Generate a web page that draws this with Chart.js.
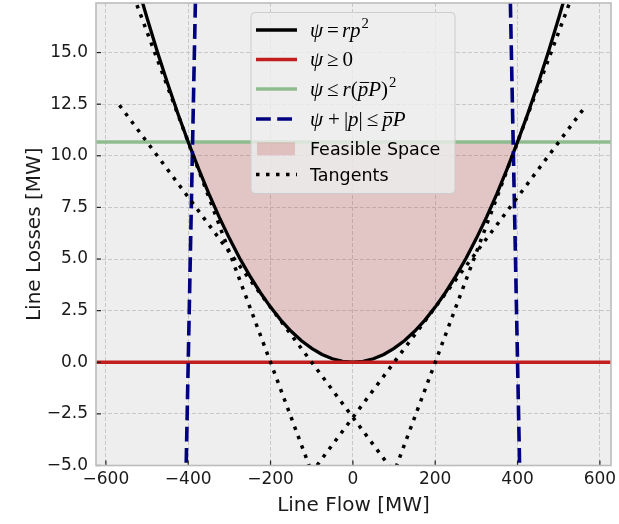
<!DOCTYPE html>
<html>
<head>
<meta charset="utf-8">
<script src="https://cdn.jsdelivr.net/npm/chart.js@4"></script>
<style>
  html, body { margin: 0; padding: 0; background: #fff; }
</style>
</head>
<body>
<canvas id="lossChart" width="619" height="524"></canvas>
<script>
// loss curve psi = r p^2, every 25 MW
const curveFlow = [-525, -500, -475, -450, -425, -400, -375, -350, -325, -300, -275, -250, -225, -200, -175, -150, -125, -100, -75, -50, -25,
  0, 25, 50, 75, 100, 125, 150, 175, 200, 225, 250, 275, 300, 325, 350, 375, 400, 425, 450, 475, 500, 525];
const curveLoss = [18.38, 16.67, 15.04, 13.50, 12.04, 10.67, 9.38, 8.17, 7.04, 6.00, 5.04, 4.17, 3.38, 2.67, 2.04, 1.50, 1.04, 0.67, 0.38, 0.17, 0.04,
  0.00, 0.04, 0.17, 0.38, 0.67, 1.04, 1.50, 2.04, 2.67, 3.38, 4.17, 5.04, 6.00, 7.04, 8.17, 9.38, 10.67, 12.04, 13.50, 15.04, 16.67, 18.38];

// constraint lines
const fullFlow = [-624, 627];
const zeroLoss = [0, 0];
const capLoss = [10.67, 10.67];
const leftLimitFlow = [-410, -380];
const rightLimitFlow = [410, 380];
const limitLoss = [-10, 20];

// feasible region outline (top edge, then back along the curve)
const feasibleFlow = [-389.9, -389.3, 389.3, 389.9, 375, 350, 325, 300, 275, 250, 225, 200, 175, 150, 125, 100, 75, 50, 25, 0,
  -25, -50, -75, -100, -125, -150, -175, -200, -225, -250, -275, -300, -325, -350, -375];
const feasibleLoss = [10.13, 10.67, 10.67, 10.13, 9.38, 8.17, 7.04, 6.00, 5.04, 4.17, 3.38, 2.67, 2.04, 1.50, 1.04, 0.67, 0.38, 0.17, 0.04, 0.00,
  0.04, 0.17, 0.38, 0.67, 1.04, 1.50, 2.04, 2.67, 3.38, 4.17, 5.04, 6.00, 7.04, 8.17, 9.38];

// tangents at -400, -200, 200, 400 MW
const tangentFlow = [-567, 567];
const tangentAtM400 = [19.57, -40.91];
const tangentAtM200 = [12.45, -17.79];
const tangentAtP200 = [-17.79, 12.45];
const tangentAtP400 = [-40.91, 19.57];

// axis ticks
const xTicks = [-600, -400, -200, 0, 200, 400, 600];
const yTicks = [-5, -2.5, 0, 2.5, 5, 7.5, 10, 12.5, 15];

function pts(xs, ys) {
  return xs.map((x, i) => ({ x: x, y: ys[i] }));
}

function lineSet(xs, ys, color, width, dash, order) {
  return {
    data: pts(xs, ys),
    borderColor: color,
    borderWidth: width,
    borderDash: dash,
    pointRadius: 0,
    fill: false,
    tension: 0,
    order: order
  };
}

const dotted = [3.5, 6.5];
const dashed = [14.8, 6.4];

const datasets = [
  lineSet(curveFlow, curveLoss, "#000000", 3.3, [], 4),
  lineSet(fullFlow, zeroLoss, "#c11f1f", 3.4, [], 3),
  lineSet(fullFlow, capLoss, "#8fbc8f", 3.4, [], 5),
  lineSet(leftLimitFlow, limitLoss, "#000080", 3.6, dashed, 2),
  lineSet(rightLimitFlow, limitLoss, "#000080", 3.6, dashed, 2),
  {
    data: pts(feasibleFlow, feasibleLoss),
    borderWidth: 0,
    pointRadius: 0,
    backgroundColor: "rgba(178, 34, 34, 0.2)",
    fill: "shape",
    tension: 0,
    order: 10
  },
  lineSet(tangentFlow, tangentAtM400, "#000000", 3.5, dotted, 1),
  lineSet(tangentFlow, tangentAtM200, "#000000", 3.5, dotted, 1),
  lineSet(tangentFlow, tangentAtP200, "#000000", 3.5, dotted, 1),
  lineSet(tangentFlow, tangentAtP400, "#000000", 3.5, dotted, 1)
];

// math-ish text: [text, kind] with i = italic, r = roman, s = superscript, b = italic with bar, number = gap
function drawMath(ctx, parts, x, y, size) {
  parts.forEach(p => {
    if (typeof p === "number") { x += p; return; }
    const [txt, kind] = p;
    const fs = kind === "s" ? size * 0.7 : size;
    const italic = kind === "i" || kind === "b";
    ctx.font = (italic ? "italic " : "") + fs + 'px "Liberation Serif"';
    const dy = kind === "s" ? -size * 0.4 : 0;
    ctx.fillText(txt, x, y + dy);
    const w = ctx.measureText(txt).width;
    if (kind === "b") {
      ctx.save();
      ctx.lineWidth = 1;
      ctx.beginPath();
      ctx.moveTo(x + 2, y - size * 0.62);
      ctx.lineTo(x + w + 1, y - size * 0.62);
      ctx.stroke();
      ctx.restore();
    }
    x += w;
  });
}

const legendRows = [
  { type: "line", color: "#000000", width: 3.3, dash: [], math: [["ψ", "i"], 4, ["=", "r"], 3, ["rp", "i"], 1, ["2", "s"]] },
  { type: "line", color: "#c11f1f", width: 3.4, dash: [], math: [["ψ", "i"], 4, ["≥", "r"], 4, ["0", "r"]] },
  { type: "line", color: "#8fbc8f", width: 3.4, dash: [], math: [["ψ", "i"], 4, ["≤", "r"], 4, ["r", "i"], ["(", "r"], ["p", "b"], ["P", "i"], [")", "r"], 1, ["2", "s"]] },
  { type: "line", color: "#000080", width: 3.6, dash: dashed, math: [["ψ", "i"], 5, ["+", "r"], 4, ["|", "r"], ["p", "i"], ["|", "r"], 4, ["≤", "r"], 4, ["p", "b"], ["P", "i"]] },
  { type: "patch", text: "Feasible Space" },
  { type: "line", color: "#000000", width: 3.5, dash: dotted, text: "Tangents" }
];
const rowY = [30, 59.5, 89, 119, 148.8, 174.5];

const plotFrame = {
  id: "plotFrame",
  beforeDraw(chart) {
    const { ctx, chartArea: a } = chart;
    ctx.save();
    ctx.fillStyle = "#eeeeee";
    ctx.fillRect(a.left, a.top, a.right - a.left, a.bottom - a.top);
    ctx.restore();
  },
  afterDatasetsDraw(chart) {
    const { ctx, chartArea: a, scales } = chart;
    ctx.save();
    // inward ticks
    ctx.strokeStyle = "#222222";
    ctx.lineWidth = 1.2;
    scales.x.ticks.forEach(t => {
      const px = scales.x.getPixelForValue(t.value);
      ctx.beginPath();
      ctx.moveTo(px, a.bottom);
      ctx.lineTo(px, a.bottom - 5);
      ctx.stroke();
    });
    scales.y.ticks.forEach(t => {
      const py = scales.y.getPixelForValue(t.value);
      ctx.beginPath();
      ctx.moveTo(a.left, py);
      ctx.lineTo(a.left + 5, py);
      ctx.stroke();
    });
    // spines
    ctx.strokeStyle = "#bcbcbc";
    ctx.lineWidth = 1.6;
    ctx.strokeRect(a.left, a.top, a.right - a.left, a.bottom - a.top);
    ctx.restore();
  },
  afterDraw(chart) {
    const ctx = chart.ctx;
    ctx.save();
    // legend box
    const bx = 251, by = 12.5, bw = 204, bh = 181, r = 4;
    ctx.beginPath();
    ctx.roundRect(bx, by, bw, bh, r);
    ctx.fillStyle = "rgba(238, 238, 238, 0.8)";
    ctx.fill();
    ctx.strokeStyle = "#cccccc";
    ctx.lineWidth = 1;
    ctx.stroke();

    legendRows.forEach((row, i) => {
      const cy = rowY[i];
      if (row.type === "patch") {
        ctx.fillStyle = "rgba(178, 34, 34, 0.2)";
        ctx.fillRect(257, cy - 6.5, 38, 13);
      } else {
        ctx.strokeStyle = row.color;
        ctx.lineWidth = row.width;
        ctx.setLineDash(row.dash);
        ctx.beginPath();
        ctx.moveTo(256, cy);
        ctx.lineTo(297, cy);
        ctx.stroke();
        ctx.setLineDash([]);
      }
      ctx.fillStyle = "#000000";
      ctx.strokeStyle = "#000000";
      ctx.textBaseline = "alphabetic";
      ctx.textAlign = "left";
      if (row.math) {
        drawMath(ctx, row.math, 310, cy + 6.5, 21);
      } else {
        ctx.font = '17.5px "DejaVu Sans"';
        ctx.fillText(row.text, 310, cy + 6.5);
      }
    });
    ctx.restore();
  }
};

function minusSign(s) {
  return String(s).replace("-", "\u2212");
}

new Chart(document.getElementById("lossChart"), {
  type: "line",
  data: { datasets: datasets },
  plugins: [plotFrame],
  options: {
    responsive: false,
    animation: false,
    devicePixelRatio: 1,
    layout: { padding: { left: 23, right: 8, top: 3, bottom: 0 } },
    plugins: {
      legend: { display: false },
      tooltip: { enabled: false }
    },
    scales: {
      x: {
        type: "linear",
        min: -624,
        max: 627,
        afterBuildTicks(scale) {
          scale.ticks = xTicks.map(v => ({ value: v }));
        },
        afterFit(scale) {
          scale.height = 58.5;
          scale.paddingLeft = 0;
          scale.paddingRight = 0;
        },
        ticks: {
          font: { family: "DejaVu Sans", size: 17 },
          color: "#1a1a1a",
          padding: 4,
          maxRotation: 0,
          callback: v => minusSign(v)
        },
        grid: { color: "#c8c8c8", lineWidth: 1, drawTicks: false },
        border: { display: false, dash: [4, 2] },
        title: {
          display: true,
          text: "Line Flow [MW]",
          font: { family: "DejaVu Sans", size: 20 },
          color: "#1a1a1a",
          padding: { top: 0, bottom: 6 }
        }
      },
      y: {
        type: "linear",
        min: -5,
        max: 17.4,
        afterBuildTicks(scale) {
          scale.ticks = yTicks.map(v => ({ value: v }));
        },
        afterFit(scale) {
          scale.width = 73;
          scale.paddingTop = 0;
          scale.paddingBottom = 0;
        },
        ticks: {
          font: { family: "DejaVu Sans", size: 17 },
          color: "#1a1a1a",
          padding: 8,
          callback: v => minusSign(v.toFixed(1))
        },
        grid: { color: "#c8c8c8", lineWidth: 1, drawTicks: false },
        border: { display: false, dash: [4, 2] },
        title: {
          display: true,
          text: "Line Losses [MW]",
          font: { family: "DejaVu Sans", size: 20 },
          color: "#1a1a1a",
          padding: 0
        }
      }
    }
  }
});
</script>
</body>
</html>
